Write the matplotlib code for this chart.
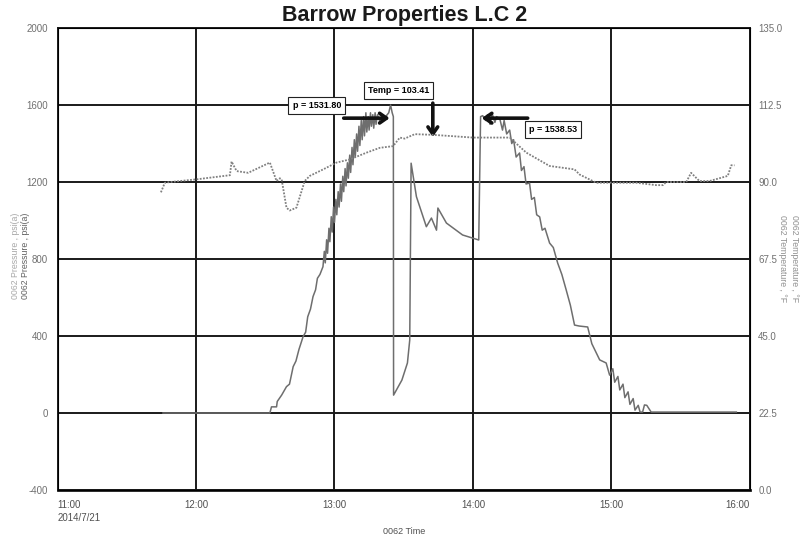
import matplotlib
matplotlib.use('Agg')
import matplotlib.pyplot as plt
import numpy as np

plt.rcParams['font.family'] = ['Liberation Sans Narrow', 'Liberation Sans', 'DejaVu Sans']

# minutes after 11:00 on 2014/7/21
p_time = [45.7, 92.0, 92.7, 94.9, 95.2, 97.1, 99.2, 100.5, 102.1, 103.3, 104.6, 106.4,
          107.5, 108.4, 109.6, 110.7, 111.8, 112.6, 113.7, 115.0, 115.6, 116.0, 116.6,
          117.0, 117.6, 118.0, 118.6, 119.0, 119.6, 120.0, 120.6, 121.0, 121.6, 122.0,
          122.6, 123.0, 123.6, 124.0, 124.6, 125.0, 125.6, 126.0, 126.6, 127.0, 127.6,
          128.0, 128.6, 129.0, 129.6, 130.0, 130.6, 131.0, 131.6, 132.0, 132.6, 133.0,
          133.6, 134.0, 134.6, 135.0, 135.6, 136.0, 136.6, 137.0, 137.6, 138.0, 138.6,
          139.5, 140.5, 141.5, 142.5, 143.5, 144.3, 145.0, 145.5, 145.6, 149.2, 151.6,
          152.6, 153.2, 155.5, 159.8, 162.0, 164.2, 164.8, 168.5, 175.5, 182.5, 183.3,
          184.2, 185.5, 186.3, 187.4, 188.3, 189.5, 190.2, 191.6, 192.8, 193.5, 194.6,
          195.9, 196.8, 197.6, 198.7, 200.2, 201.0, 202.1, 203.0, 204.5, 205.4, 206.6,
          207.6, 208.9, 210.0, 211.2, 213.2, 214.8, 216.7, 218.5, 220.4, 222.2, 224.0,
          226.0, 229.7, 231.5, 234.9, 237.7, 239.2, 240.6, 241.4, 242.8, 243.6, 245.0,
          245.8, 247.2, 248.0, 249.4, 250.2, 251.6, 252.4, 253.5, 254.3, 255.3, 257.2,
          258.7, 294.1]
p_val = [0, 0, 32, 32, 60, 93, 137, 150, 241, 270, 330, 397,
         420, 500, 540, 605, 640, 700, 720, 760, 840, 780, 900,
         830, 960, 890, 1020, 940, 1070, 990, 1110, 1030, 1150, 1070,
         1190, 1100, 1230, 1150, 1270, 1180, 1300, 1220, 1340, 1250, 1380,
         1290, 1420, 1330, 1450, 1360, 1490, 1390, 1520, 1420, 1540, 1440,
         1560, 1460, 1540, 1470, 1560, 1490, 1550, 1480, 1560, 1500, 1550,
         1520, 1540, 1530, 1545, 1560, 1600, 1560, 1540, 93, 171, 260,
         379, 1298, 1124, 968, 1013, 950, 1065, 987, 925, 899, 1540,
         1545, 1520, 1550, 1500, 1555, 1510, 1540, 1530, 1470, 1520, 1450,
         1470, 1400, 1420, 1330, 1351, 1260, 1280, 1190, 1195, 1110, 1120,
         1030, 1019, 950, 960, 883, 860, 779, 720, 639, 560, 457,
         452, 447, 360, 276, 260, 197, 230, 160, 190, 120, 150,
         80, 110, 45, 75, 15, 40, 5, 5, 42, 40, 5,
         5, 5]

t_time = [44.8, 46.5, 48.7, 60.3, 74.7, 75.4, 77.6, 82.6, 92.0, 94.9, 96.3, 97.1,
          99.2, 100.6, 103.5, 107.1, 109.3, 115.1, 120.9, 126.6, 133.9, 139.6,
          145.4, 148.3, 150.4, 154.8, 162.7, 180.0, 195.9, 203.1, 213.2, 224.0,
          226.2, 233.4, 250.7, 259.4, 262.3, 263.7, 272.4, 274.5, 278.1, 282.5,
          290.4, 291.9, 293.3]
t_val = [87.0, 89.8, 90.0, 90.8, 92.0, 96.0, 93.2, 92.7, 95.7, 90.3, 91.1, 90.8,
         82.5, 81.7, 82.5, 90.3, 91.8, 93.7, 95.7, 96.6, 98.6, 100.0,
         100.5, 103.0, 102.7, 104.0, 103.8, 103.0, 103.0, 98.6, 94.7, 93.7,
         92.2, 89.8, 89.8, 89.1, 89.1, 90.0, 90.0, 92.7, 90.3, 90.3,
         91.8, 94.9, 94.9]

x_ticks = [0, 60, 120, 180, 240, 300]
x_labels = ['11:00\n2014/7/21', '12:00', '13:00', '14:00', '15:00', '16:00']
p_ticks = [-400, 0, 400, 800, 1200, 1600, 2000]
t_ticks = [0.0, 22.5, 45.0, 67.5, 90.0, 112.5, 135.0]

fig = plt.figure(figsize=(8.09, 5.39), dpi=100)
ax = fig.add_axes([0.0711, 0.0909, 0.8559, 0.857])
ax.set_xlim(0, 300)
ax.set_ylim(-400, 2000)
ax.set_xticks(x_ticks)
ax.set_xticklabels(x_labels, fontsize=7, color='#505050', linespacing=1.4)
ax.set_yticks(p_ticks)
ax.set_yticklabels([str(v) for v in p_ticks], fontsize=7, color='#707070')
ax.tick_params(length=0, pad=7)
labs = ax.get_xticklabels()
labs[0].set_ha('left')
labs[-1].set_ha('right')
ax.grid(True, color='#1a1a1a', lw=1.4)
for s in ax.spines.values():
    s.set_color('#1a1a1a')
    s.set_linewidth(1.4)
ax.spines['bottom'].set_linewidth(2)

ax.plot(p_time, p_val, color='#6e6e6e', lw=1.1, zorder=3)

ax2 = ax.twinx()
ax2.set_ylim(0, 135)
ax2.set_yticks(t_ticks)
ax2.set_yticklabels(['%.1f' % v for v in t_ticks], fontsize=7, color='#707070')
ax2.tick_params(length=0, pad=6)
ax2.plot(t_time, t_val, color='#808080', lw=1.3, ls=(0, (1, 0.8)), zorder=3)

# annotations
box = dict(boxstyle='square,pad=0.45', fc='white', ec='#222222', lw=0.8)
arr = dict(arrowstyle='->,head_length=0.5,head_width=0.35', color='#111111', lw=2.6,
           shrinkA=0, shrinkB=0)
ax.annotate('', xy=(143.9, 1532), xytext=(124.0, 1532), arrowprops=arr, zorder=6)
ax.annotate('', xy=(162.6, 1434), xytext=(162.6, 1610), arrowprops=arr, zorder=6)
ax.annotate('', xy=(183.8, 1532), xytext=(203.7, 1532), arrowprops=arr, zorder=6)
ax.text(112.3, 1597, 'p = 1531.80', fontsize=6.5, weight='bold', ha='center', va='center',
        bbox=box, zorder=7)
ax.text(147.8, 1674, 'Temp = 103.41', fontsize=6.5, weight='bold', ha='center', va='center',
        bbox=box, zorder=7)
ax.text(214.6, 1473, 'p = 1538.53', fontsize=6.5, weight='bold', ha='center', va='center',
        bbox=box, zorder=7)

fig.text(0.5, 1 - 15 / 539, 'Barrow Properties L.C 2', fontsize=15.5, weight='bold',
         ha='center', va='center', color='#1a1a1a')
fig.text(16 / 809, 0.525, '0062 Pressure , psi(a)', rotation=90, fontsize=6.3,
         color='#a8a8a8', ha='center', va='center')
fig.text(26 / 809, 0.525, '0062 Pressure , psi(a)', rotation=90, fontsize=6.3,
         color='#606060', ha='center', va='center')
fig.text(783 / 809, 0.52, '0062 Temperature , °F', rotation=-90, fontsize=6.3,
         color='#909090', ha='center', va='center')
fig.text(794 / 809, 0.52, '0062 Temperature , °F', rotation=-90, fontsize=6.3,
         color='#909090', ha='center', va='center')
fig.text(404 / 809, 1 - 532 / 539, '0062 Time', fontsize=6.5, color='#505050',
         ha='center', va='center')

fig.savefig('out.png', dpi=100)
